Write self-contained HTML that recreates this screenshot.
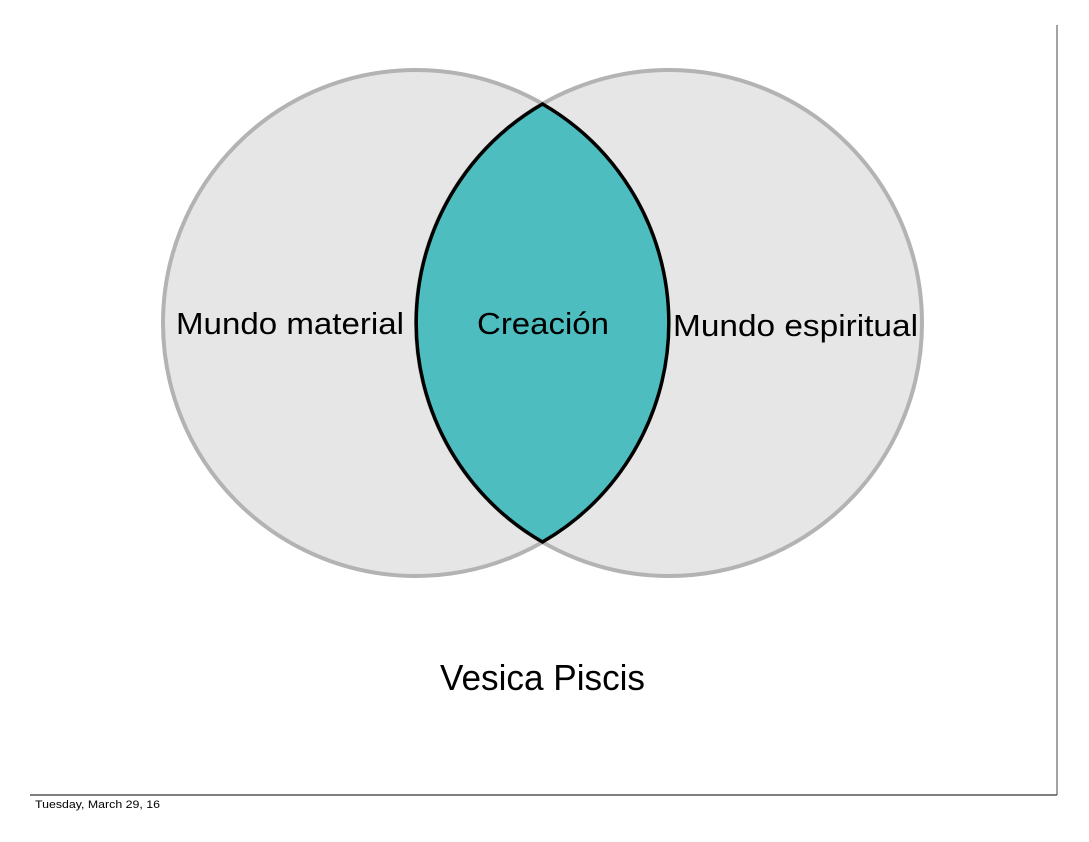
<!DOCTYPE html>
<html><head><meta charset="utf-8"><style>
html,body{margin:0;padding:0;background:#fff;width:1089px;height:842px;overflow:hidden;}
</style></head><body>
<svg width="1089" height="842" viewBox="0 0 1089 842" xmlns="http://www.w3.org/2000/svg">
<line x1="1057" y1="25" x2="1057" y2="795" stroke="#666" stroke-width="1.2"/>
<line x1="30" y1="795" x2="1057" y2="795" stroke="#555" stroke-width="1.5"/>
<text x="35" y="808" font-family="Liberation Sans, sans-serif" font-size="11" fill="#000" textLength="125" lengthAdjust="spacingAndGlyphs">Tuesday, March 29, 16</text>
<circle cx="416" cy="323" r="253" fill="#e6e6e6" stroke="#b3b3b3" stroke-width="4"/>
<circle cx="669" cy="323" r="253" fill="#e6e6e6" stroke="#b3b3b3" stroke-width="4"/>
<path d="M542.5 104 A253 253 0 0 1 542.5 542 A253 253 0 0 1 542.5 104 Z" fill="#4dbdbf" stroke="#000" stroke-width="3.5"/>
<g font-family="Liberation Sans, sans-serif" font-size="31" fill="#000">
<text x="176" y="334" textLength="228" lengthAdjust="spacingAndGlyphs">Mundo material</text>
<text x="477" y="334" textLength="132" lengthAdjust="spacingAndGlyphs">Creación</text>
<text x="673" y="336" textLength="245" lengthAdjust="spacingAndGlyphs">Mundo espiritual</text>
<text x="440" y="690" font-size="36" textLength="205" lengthAdjust="spacingAndGlyphs">Vesica Piscis</text>
</g>
</svg>
</body></html>
